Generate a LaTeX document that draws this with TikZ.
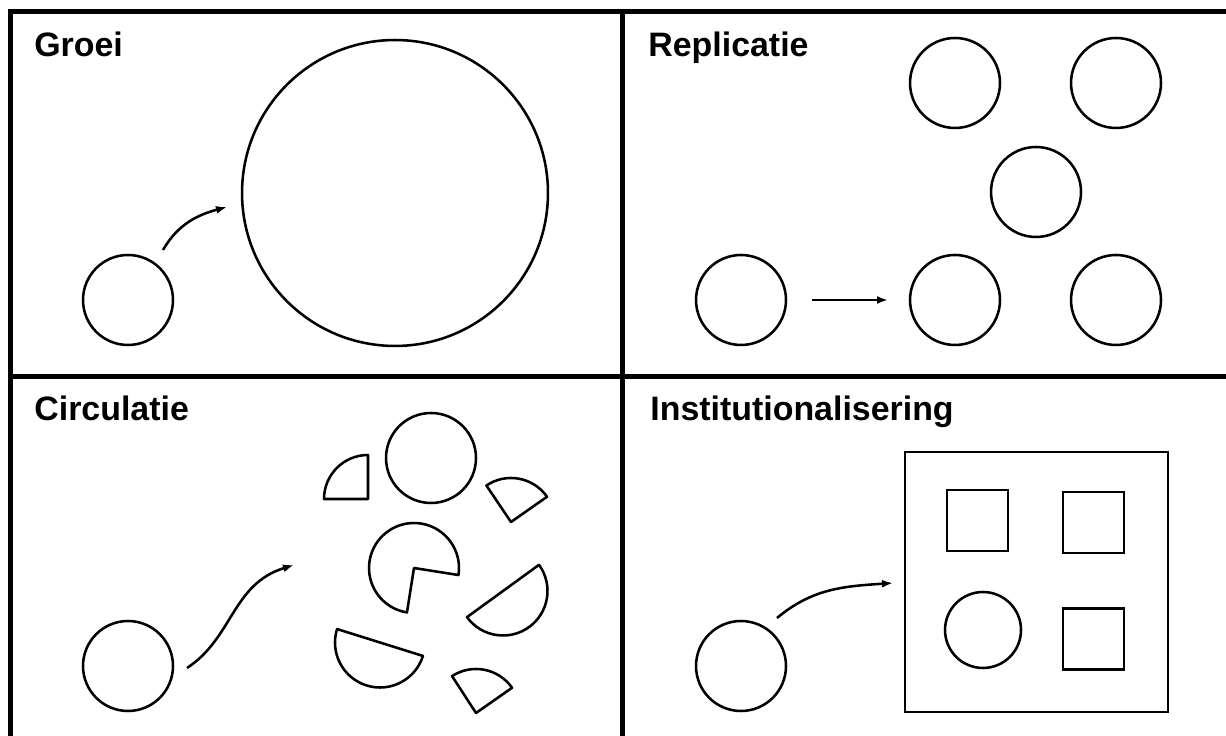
\documentclass[tikz,border=0pt]{standalone}
\usepackage{fontspec}
\setmainfont{Liberation Sans}
\usetikzlibrary{arrows.meta}

\begin{document}
\begin{tikzpicture}[
  x=0.02cm, y=0.02cm,
  >={Latex[length=2.2mm, width=1.6mm]},
  frame/.style     = {line width=0.1cm},
  pen/.style       = {line width=1.45pt},
  paneltitle/.style = {anchor=base west, inner sep=0pt,
                       font=\fontsize{19.3}{23}\selectfont\bfseries},
  blob/.style      = {circle, draw, pen, inner sep=0pt, minimum size=1.8cm},
  cell/.style      = {rectangle, draw, pen, inner sep=0pt, minimum size=1.22cm},
  piece/.style     = {draw, pen, line join=round},
  flow/.style      = {->, pen}
]
\useasboundingbox (0,0) rectangle (1226,736);
\clip (0,0) rectangle (1226,736);

\draw[frame] (10.5,-20) rectangle (1240,724);
\draw[frame] (622,-20) -- (622,724);
\draw[frame] (10.5,359) -- (1240,359);

\node[paneltitle] (groeiTitle) at (34,679) {Groei};
\node[paneltitle] (replTitle) at (648,679) {Replicatie};
\node[paneltitle] (circTitle) at (34,315) {Circulatie};
\node[paneltitle] (instTitle) at (650,315) {Institutionalisering};

\node[blob] (seedGrow) at (128,436) {};
\node[blob, minimum size=6.12cm] (grown) at (395,543) {};
\coordinate (growTail) at (163,486);
\coordinate (growHead) at (227,529);
\draw[flow] (growTail) to[out=60, in=195] (growHead);

\node[blob] (seedRepl) at (741,436) {};
\coordinate (replTail) at (812,436);
\coordinate (replHead) at (888,436);
\draw[flow] (replTail) -- (replHead);
\node[blob] (copyA) at (955,436) {};
\node[blob] (copyB) at (1116,436) {};
\node[blob] (copyC) at (1036,544) {};
\node[blob] (copyD) at (955,653) {};
\node[blob] (copyE) at (1116,653) {};

\node[blob] (seedCirc) at (128,70) {};
\coordinate (circTail) at (187,68);
\coordinate (circHead) at (294,171);
\draw[flow] (circTail) .. controls (233,98) and (232,152) .. (circHead);
\node[blob] (whole) at (431,278) {};
\draw[piece] (368,237) -- ++(0,44) arc[start angle=90, end angle=180, radius=44] -- cycle;
\draw[piece] (511,214) -- ++(35:44) arc[start angle=35, end angle=124, radius=44] -- cycle;
\draw[piece] (414,168) -- ++(-9:45) arc[start angle=-9, end angle=261, radius=45] -- cycle;
\draw[piece] (503,145) ++(-144:44.5) arc[start angle=-144, end angle=36, radius=44.5] -- cycle;
\draw[piece] (380,93.5) ++(162.6:45) arc[start angle=162.6, end angle=342.6, radius=45] -- cycle;
\draw[piece] (476,23) -- ++(35:44) arc[start angle=35, end angle=123, radius=44] -- cycle;

\node[blob] (seedInst) at (741,70) {};
\node[cell, minimum width=5.26cm, minimum height=5.2cm] (institute) at (1036.5,154) {};
\coordinate (instTail) at (777,118);
\coordinate (instHead) at (893,153);
\draw[flow] (instTail) to[out=40, in=184] (instHead);
\node[cell] (unitA) at (977.5,215.5) {};
\node[cell] (unitB) at (1093.5,213.5) {};
\node[cell] (unitC) at (1093.5,97) {};
\node[blob, minimum size=1.52cm] (unitD) at (983,106) {};
\end{tikzpicture}
\end{document}
